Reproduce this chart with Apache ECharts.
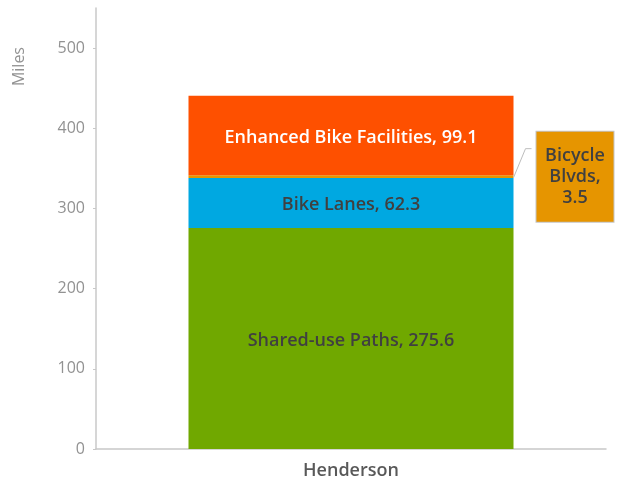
<!DOCTYPE html>
<html>
<head>
<meta charset="utf-8">
<script src="https://cdn.jsdelivr.net/npm/echarts@6/dist/echarts.min.js"></script>
<style>
  html, body { margin: 0; padding: 0; background: #fff; }
  #chart { width: 618px; height: 481px; }
</style>
</head>
<body>
<div id="chart"></div>
<script>
// Bikeway mileage by facility type, stacked bottom to top
const categories = ['Henderson'];
const sharedUsePaths = [275.6];
const bikeLanes = [62.3];
const bicycleBlvds = [3.5];
const enhancedFacilities = [99.1];
const seriesNames = ['Shared-use Paths', 'Bike Lanes', 'Bicycle Blvds', 'Enhanced Bike Facilities'];
const yTicks = { min: 0, max: 550, interval: 100 };

const FONT = '"Open Sans", Lato, sans-serif';
const BAR_W = 325;
const labelFmt = p => p.seriesName + ', ' + p.value;

function segment(name, data, color, labelColor) {
  return {
    name: name,
    type: 'bar',
    stack: 'miles',
    data: data,
    barWidth: BAR_W,
    itemStyle: { color: color },
    label: {
      show: true,
      position: 'inside',
      offset: [0, 2],
      formatter: labelFmt,
      color: labelColor,
      fontFamily: FONT,
      fontWeight: 600,
      fontSize: 18
    },
    emphasis: { disabled: true }
  };
}

const chart = echarts.init(document.getElementById('chart'), null, { renderer: 'canvas' });

// Small segment: callout box to the right of the bar
const BOX_W = 77;
const BOX_GAP = 23;
const blvd = segment(seriesNames[2], bicycleBlvds, '#E69500', '#404040');
blvd.label = {
  show: true,
  position: 'right',
  formatter: p => 'Bicycle\nBlvds,\n' + p.value,
  color: '#404040',
  fontFamily: FONT,
  fontWeight: 600,
  fontSize: 18,
  lineHeight: 21,
  align: 'center',
  verticalAlign: 'middle',
  width: BOX_W - 12,
  backgroundColor: '#E69500',
  borderColor: '#c4c4c4',
  borderWidth: 1,
  padding: [13, 6, 14, 6]
};
blvd.labelLayout = function (params) {
  const r = params.rect;
  return {
    x: r.x + r.width + BOX_GAP + BOX_W / 2,
    y: r.y + r.height / 2,
    align: 'center',
    verticalAlign: 'middle'
  };
};

chart.setOption({
  animation: false,
  backgroundColor: '#ffffff',
  grid: { left: 96, right: 12, top: 8, bottom: 32, containLabel: false },
  xAxis: {
    type: 'category',
    data: categories,
    axisLine: { lineStyle: { color: '#c8c8c8', width: 1.5 } },
    axisTick: { show: false },
    axisLabel: {
      color: '#595959',
      fontFamily: FONT,
      fontWeight: 600,
      fontSize: 18,
      margin: 13
    }
  },
  yAxis: {
    type: 'value',
    min: yTicks.min,
    max: yTicks.max,
    interval: yTicks.interval,
    splitLine: { show: false },
    axisLine: { show: true, lineStyle: { color: '#c8c8c8', width: 1.5 } },
    axisTick: { show: true, length: 3, lineStyle: { color: '#c8c8c8' } },
    axisLabel: {
      showMaxLabel: false,
      color: '#929292',
      fontFamily: FONT,
      fontSize: 16,
      margin: 11
    }
  },
  graphic: [{
    id: 'yName',
    type: 'text',
    left: 11,
    top: 47,
    rotation: Math.PI / 2,
    style: {
      text: 'Miles',
      fill: '#929292',
      font: '16px ' + FONT
    }
  }],
  series: [
    segment(seriesNames[0], sharedUsePaths, '#70A800', '#404040'),
    segment(seriesNames[1], bikeLanes, '#00A8E1', '#404040'),
    blvd,
    segment(seriesNames[3], enhancedFacilities, '#FE5000', '#ffffff')
  ]
});

// Leader line from the thin segment's right edge to the callout box
const blvdMid = sharedUsePaths[0] + bikeLanes[0] + bicycleBlvds[0] / 2;
const anchor = chart.convertToPixel({ xAxisIndex: 0, yAxisIndex: 0 }, [categories[0], blvdMid]);
const edgeX = anchor[0] + BAR_W / 2;
const boxLeft = edgeX + BOX_GAP;
const bendY = anchor[1] - 28;
chart.setOption({
  graphic: [{
    id: 'leader',
    type: 'polyline',
    z: 100,
    shape: {
      points: [
        [edgeX, anchor[1] + 1],
        [boxLeft - 11, bendY],
        [boxLeft - 5, bendY]
      ]
    },
    style: { stroke: '#bdbdbd', lineWidth: 1, fill: null }
  }]
});
</script>
</body>
</html>
